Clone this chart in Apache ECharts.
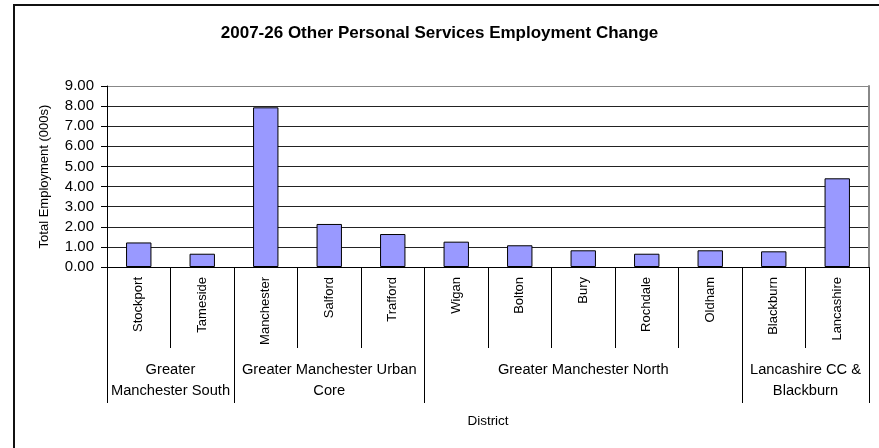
<!DOCTYPE html>
<html>
<head>
<meta charset="utf-8">
<script src="https://cdn.jsdelivr.net/npm/echarts@6/dist/echarts.min.js"></script>
<style>
  html, body { margin: 0; padding: 0; background: #fff; }
  #chart { width: 879px; height: 448px; }
</style>
</head>
<body>
<div id="chart"></div>
<script>
// Districts along the category axis, in display order
var districts = ['Stockport', 'Tameside', 'Manchester', 'Salford', 'Trafford',
  'Wigan', 'Bolton', 'Bury', 'Rochdale', 'Oldham', 'Blackburn', 'Lancashire'];

// Employment change 2007-26, thousands
var employmentChange = [1.22, 0.66, 7.94, 2.14, 1.64, 1.26, 1.08, 0.83, 0.66, 0.83, 0.78, 4.41];

// Sub-regional groups and how many districts each one spans
var groupNames = ['Greater\nManchester South', 'Greater Manchester Urban\nCore',
  'Greater Manchester North', 'Lancashire CC &\nBlackburn'];
var groupSizes = [2, 3, 5, 2];

// Y axis ticks
var yTicks = [0, 1, 2, 3, 4, 5, 6, 7, 8, 9];

var FONT = 'Liberation Sans, Arial, sans-serif';

// Group boundaries and centres in category units
var boundaries = [0];
var centres = [];
var centreName = {};
groupSizes.forEach(function (n, i) {
  var start = boundaries[boundaries.length - 1];
  boundaries.push(start + n);
  var c = start + n / 2;
  centres.push(c);
  centreName[c] = groupNames[i];
});

var splitColors = yTicks.map(function (t, i) {
  return i === yTicks.length - 1 ? '#888888' : '#222222';
});

var chart = echarts.init(document.getElementById('chart'), null, { renderer: 'canvas' });

chart.setOption({
  animation: false,
  backgroundColor: '#ffffff',
  title: {
    text: '2007-26 Other Personal Services Employment Change',
    left: 'center',
    top: 25,
    padding: 0,
    textStyle: { fontFamily: FONT, fontSize: 17, fontWeight: 'bold', color: '#000' }
  },
  graphic: [{
    type: 'rect',
    shape: { x: 14, y: 5, width: 900, height: 500 },
    style: { fill: 'none', stroke: '#111', lineWidth: 2 },
    silent: true,
    z: -1
  }],
  grid: { left: 107, top: 86, width: 762, height: 181 },
  xAxis: [{
    type: 'category',
    data: districts,
    position: 'bottom',
    axisLine: { show: true, lineStyle: { color: '#000', width: 1 } },
    axisTick: { show: true, alignWithLabel: false, interval: 0, length: 81,
      lineStyle: { color: '#000', width: 1 } },
    axisLabel: { interval: 0, rotate: 90, margin: 10, fontFamily: FONT, fontSize: 13, color: '#000' },
    splitLine: { show: false }
  }, {
    type: 'value',
    min: 0,
    max: districts.length,
    position: 'bottom',
    name: 'District',
    nameLocation: 'middle',
    nameGap: 147,
    nameTextStyle: { fontFamily: FONT, fontSize: 13.5, color: '#000' },
    axisLine: { show: false },
    axisTick: { show: true, customValues: boundaries, length: 136,
      lineStyle: { color: '#000', width: 1 } },
    axisLabel: {
      customValues: centres,
      margin: 92,
      lineHeight: 21,
      fontFamily: FONT, fontSize: 14.7, color: '#000',
      formatter: function (v) { return centreName[v] || ''; }
    },
    splitLine: { show: false }
  }],
  yAxis: [{
    type: 'value',
    min: 0,
    max: 9,
    interval: 1,
    name: 'Total Employment (000s)',
    nameLocation: 'middle',
    nameGap: 56,
    nameTextStyle: { fontFamily: FONT, fontSize: 13, color: '#000' },
    axisLine: { show: true, lineStyle: { color: '#000', width: 1 } },
    axisTick: { show: true, inside: false, length: 6, lineStyle: { color: '#000' } },
    axisLabel: { margin: 13, fontFamily: FONT, fontSize: 15, color: '#000',
      formatter: function (v) { return v.toFixed(2); } },
    splitLine: { show: true, lineStyle: { color: splitColors, width: 1 } }
  }, {
    type: 'value',
    min: 0,
    max: 9,
    position: 'right',
    axisLine: { show: true, lineStyle: { color: '#888888', width: 2 } },
    axisTick: { show: false },
    axisLabel: { show: false },
    splitLine: { show: false }
  }],
  series: [{
    type: 'bar',
    data: employmentChange,
    xAxisIndex: 0,
    yAxisIndex: 0,
    barWidth: '40%',
    itemStyle: { color: '#9999FF', borderColor: '#000', borderWidth: 1 }
  }]
});
</script>
</body>
</html>
